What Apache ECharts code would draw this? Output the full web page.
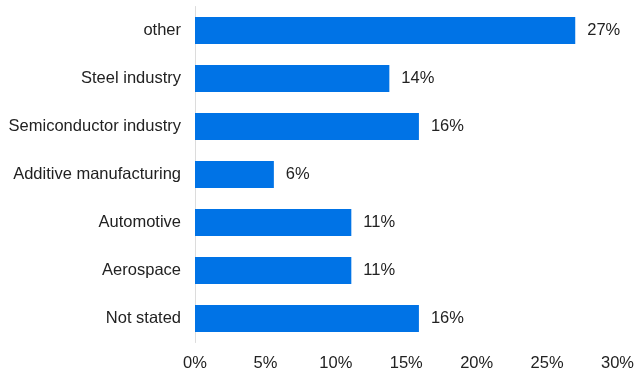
<!DOCTYPE html>
<html>
<head>
  <meta charset="UTF-8">
  <script src="https://cdn.jsdelivr.net/npm/echarts@6/dist/echarts.min.js"></script>
  <style>
    html, body { margin: 0; padding: 0; background: #fff; }
    #main { width: 637px; height: 374px; }
  </style>
</head>
<body>
<div id="main"></div>
<script>
  // bottom to top, as the category axis draws them
  const categories = ['Not stated', 'Aerospace', 'Automotive', 'Additive manufacturing',
    'Semiconductor industry', 'Steel industry', 'other'];
  const shares = [15.9, 11.1, 11.1, 5.6, 15.9, 13.8, 27.0];

  const font = "'Liberation Sans', Arial, sans-serif";
  const chart = echarts.init(document.getElementById('main'), null, { renderer: 'canvas' });
  chart.setOption({
    animation: false,
    grid: { left: 195, right: 19, top: 6.5, bottom: 31.5, containLabel: false },
    xAxis: {
      type: 'value',
      min: 0,
      max: 30,
      interval: 5,
      axisLine: { show: false },
      axisTick: { show: false },
      splitLine: { show: false },
      axisLabel: { formatter: '{value}%', color: '#222', fontSize: 16.5, fontFamily: font, margin: 12 }
    },
    yAxis: {
      type: 'category',
      data: categories,
      axisLine: { show: true, lineStyle: { color: '#dcdcdc', width: 1 } },
      axisTick: { show: false },
      axisLabel: { color: '#222', fontSize: 16.5, fontFamily: font, margin: 14 }
    },
    series: [{
      type: 'bar',
      data: shares,
      barCategoryGap: '44%',
      itemStyle: { color: '#0073e6' },
      label: {
        show: true,
        position: 'right',
        distance: 12,
        formatter: p => Math.round(p.value) + '%',
        color: '#222',
        fontSize: 16.5,
        fontFamily: font
      }
    }]
  });
</script>
</body>
</html>
